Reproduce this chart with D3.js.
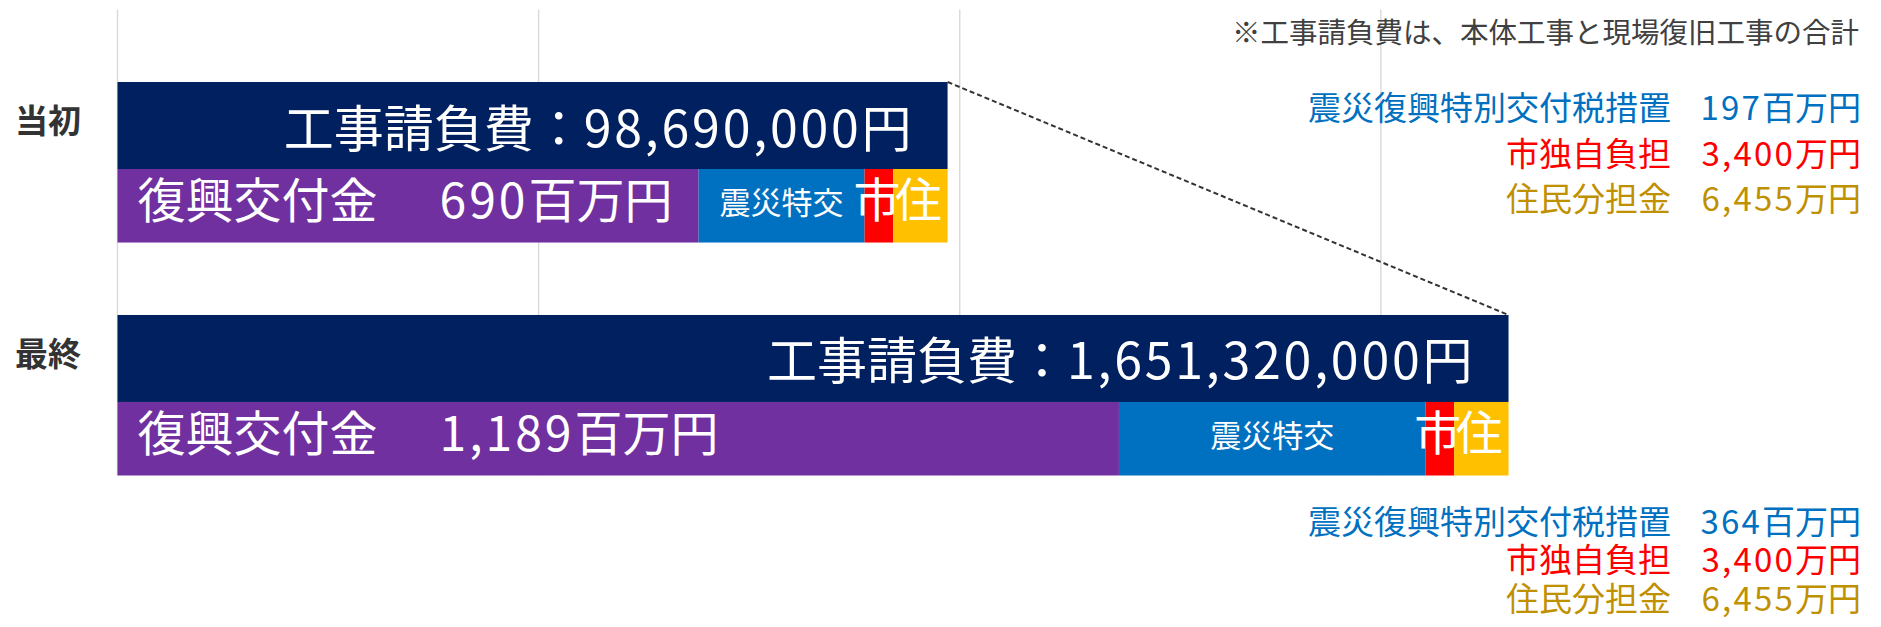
<!DOCTYPE html>
<html lang="ja">
<head>
<meta charset="utf-8">
<title>工事請負費と財源内訳</title>
<script src="https://cdn.jsdelivr.net/npm/d3@7/dist/d3.min.js"></script>
<style>
  html, body { margin: 0; padding: 0; background: #ffffff; }
  svg { display: block; font-family: "Noto Sans CJK JP", "Noto Sans", sans-serif; }
</style>
</head>
<body>
<svg id="chart"></svg>
<script>
// Categories (stage of the contract)
const categories = ["当初", "最終"];

// Funding sources, in 百万円
const reconstructionGrant = [690, 1189];   // 復興交付金
const specialTaxMeasure   = [197, 364];    // 震災復興特別交付税措置
const cityBurden          = [34, 34];      // 市独自負担
const residentShare       = [64.55, 64.55];// 住民分担金

// Contract amount text as printed on the bars
const contractLabels = ["98,690,000円", "1,651,320,000円"];

// Gridline positions on the value axis (百万円)
const gridTicks = [0, 500, 1000, 1500];

const note = "※工事請負費は、本体工事と現場復旧工事の合計";

const W = 1881, H = 627;

const svg = d3.select("#chart").attr("width", W).attr("height", H)
  .attr("viewBox", `0 0 ${W} ${H}`);

const keys = ["grant", "special", "city", "resident"];
const colors = { grant: "#7030A0", special: "#0070C0", city: "#FF0000", resident: "#FFC000" };
const rows = categories.map((c, i) => ({
  category: c,
  grant: reconstructionGrant[i],
  special: specialTaxMeasure[i],
  city: cityBurden[i],
  resident: residentShare[i]
}));
const stacked = d3.stack().keys(keys)(rows);
const totals = rows.map(r => keys.reduce((s, k) => s + r[k], 0));

const x = d3.scaleLinear().domain([0, 2000]).range([117.5, 1802]);
const y = d3.scaleBand().domain(categories).range([82, 475.5]).paddingInner(0.311).paddingOuter(0);
const bw = y.bandwidth();
const topH = 87;              // contract amount bar
const segH = bw - topH;       // funding breakdown bar

// gridlines
svg.append("g").selectAll("line").data(gridTicks).join("line")
  .attr("x1", d => x(d)).attr("x2", d => x(d))
  .attr("y1", 9.5).attr("y2", 475.5)
  .attr("stroke", "#d9d9d9").attr("stroke-width", 1.4);

// category labels
svg.append("g").selectAll("text").data(categories).join("text")
  .attr("x", 81).attr("y", d => y(d) + 38 + 0.38 * 33)
  .attr("text-anchor", "end")
  .attr("font-size", 33).attr("font-weight", 700).attr("fill", "#333333")
  .text(d => d);

// contract amount bars
svg.append("g").selectAll("rect").data(rows).join("rect")
  .attr("x", x(0)).attr("y", d => y(d.category))
  .attr("width", (d, i) => x(totals[i]) - x(0)).attr("height", topH)
  .attr("fill", "#002060");

// funding breakdown bars
const segG = svg.append("g");
stacked.forEach(layer => {
  segG.selectAll(null).data(layer).join("rect")
    .attr("x", d => x(d[0])).attr("y", d => y(d.data.category) + topH)
    .attr("width", d => x(d[1]) - x(d[0])).attr("height", segH)
    .attr("fill", colors[layer.key]);
});

// connector between the two contract bar ends
svg.append("line")
  .attr("x1", x(totals[0])).attr("y1", y(categories[0]))
  .attr("x2", x(totals[1])).attr("y2", y(categories[1]))
  .attr("stroke", "#333333").attr("stroke-width", 2)
  .attr("stroke-dasharray", "5,3");

const fmt = d3.format(",");

// contract amount labels
rows.forEach((r, i) => {
  const t = svg.append("text")
    .attr("x", x(totals[i]) - 36)
    .attr("y", y(r.category) + topH / 2 + 2 + 0.38 * 50)
    .attr("text-anchor", "end").attr("font-size", 50).attr("fill", "#ffffff");
  t.append("tspan").text("工事請負費：");
  const m = contractLabels[i].replace("円", "");
  t.append("tspan").attr("letter-spacing", 2.8).text(m);
  t.append("tspan").text("円");
});

// labels inside the breakdown bars
rows.forEach((r, i) => {
  const segTop = y(r.category) + topH;
  const cy = segTop + segH / 2;
  const sx = k => stacked[keys.indexOf(k)][i];

  const g = svg.append("text")
    .attr("x", x(0) + 20).attr("y", cy - 6 + 0.38 * 48)
    .attr("font-size", 48).attr("fill", "#ffffff");
  g.append("tspan").text("復興交付金\u3000");
  g.append("tspan").attr("dx", 14).attr("letter-spacing", 3).text(fmt(r.grant));
  g.append("tspan").text("百万円");

  const s = sx("special");
  svg.append("text")
    .attr("x", (x(s[0]) + x(s[1])) / 2).attr("y", cy - 4 + 0.38 * 31)
    .attr("text-anchor", "middle").attr("font-size", 31).attr("fill", "#ffffff")
    .text("震災特交");

  [["city", "市"], ["resident", "住"]].forEach(([k, ch]) => {
    const v = sx(k);
    svg.append("text")
      .attr("x", (x(v[0]) + x(v[1])) / 2 - 2).attr("y", cy - 6.5 + 0.38 * 47)
      .attr("text-anchor", "middle").attr("font-size", 47).attr("fill", "#ffffff")
      .text(ch);
  });
});

// note
svg.append("text")
  .attr("x", 1859).attr("y", 31.8 + 0.38 * 28.5)
  .attr("text-anchor", "end").attr("font-size", 28.5).attr("fill", "#404040")
  .text(note);

// funding legends beside each bar
const legendTop = [107.5, 521];
const rowGap = [45.5, 38.5];
rows.forEach((r, i) => {
  const items = [
    { label: "震災復興特別交付税措置", num: fmt(r.special), unit: "百万円", color: "#0070C0" },
    { label: "市独自負担", num: fmt(Math.round(r.city * 100)), unit: "万円", color: "#FF0000" },
    { label: "住民分担金", num: fmt(Math.round(r.resident * 100)), unit: "万円", color: "#BF9000" }
  ];
  items.forEach((it, j) => {
    const yy = legendTop[i] + j * rowGap[i] + 0.38 * 33;
    svg.append("text").attr("x", 1671).attr("y", yy)
      .attr("text-anchor", "end").attr("font-size", 33).attr("fill", it.color)
      .text(it.label);
    const v = svg.append("text").attr("x", 1861).attr("y", yy)
      .attr("text-anchor", "end").attr("font-size", 33).attr("fill", it.color);
    v.append("tspan").attr("letter-spacing", 2.2).text(it.num);
    v.append("tspan").text(it.unit);
  });
});
</script>
</body>
</html>
